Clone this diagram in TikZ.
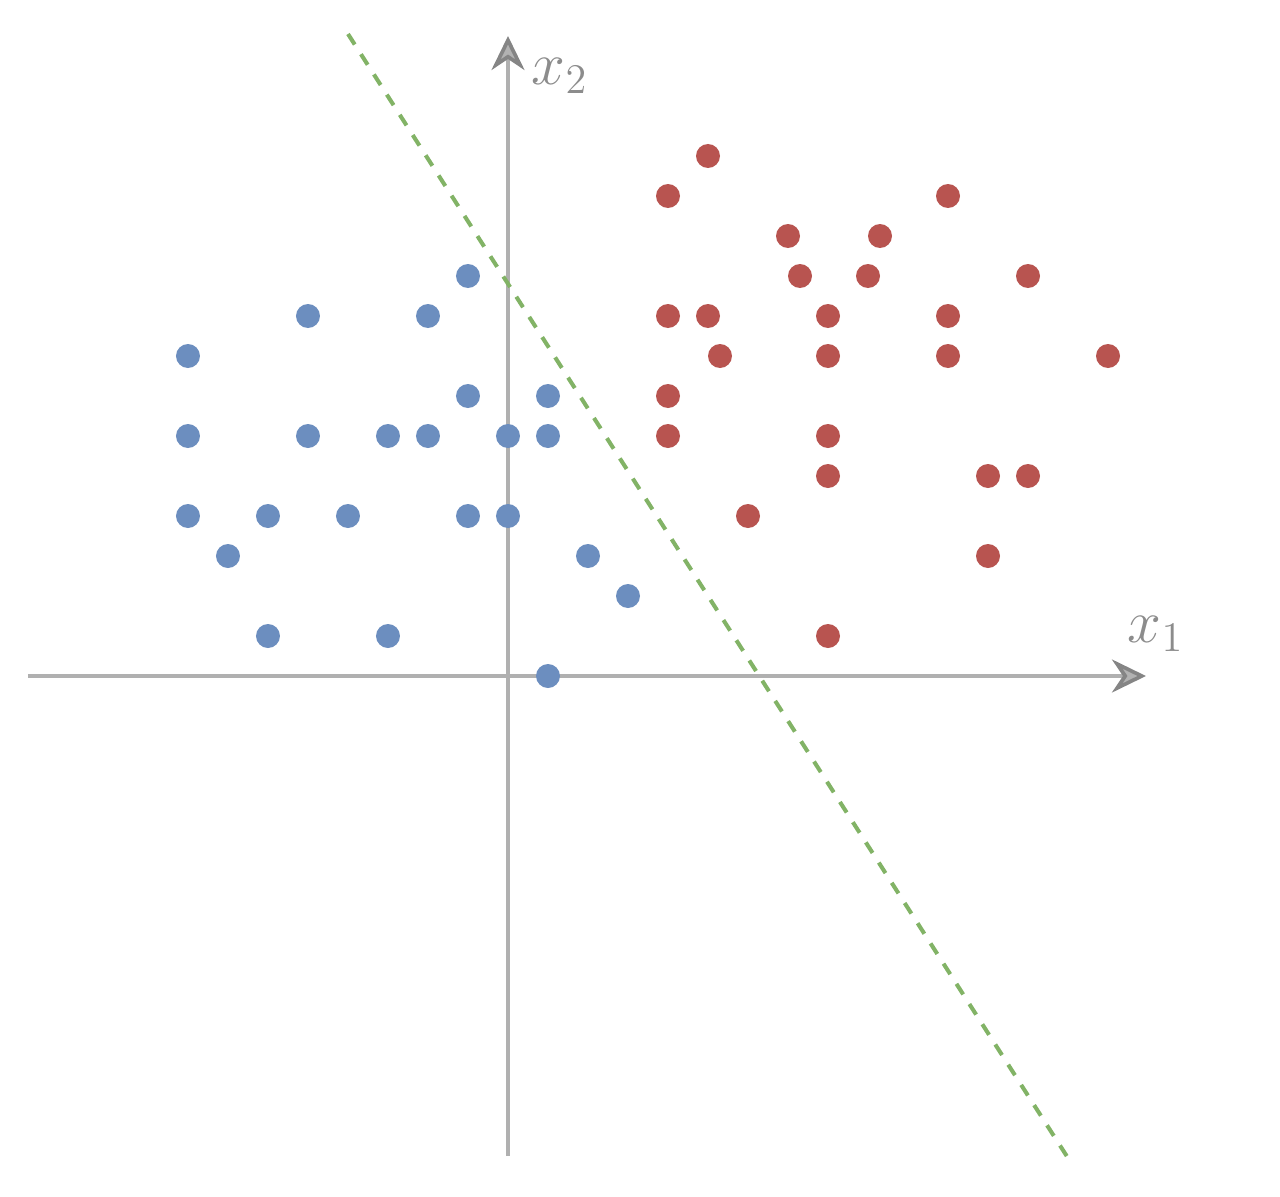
\documentclass[tikz,border=0pt]{standalone}
\usepackage{tikz}
\usetikzlibrary{positioning}
\usetikzlibrary{arrows.meta}
\definecolor{dotblue}{HTML}{6C8EBF}
\definecolor{dotred}{HTML}{B85450}
\definecolor{sepgreen}{HTML}{82B366}
\tikzset{
    axis/.style = {line width=1.05pt,draw=black!31,-{Stealth[length=3.4mm,width=3.3mm,inset=1.1mm,fill=black!30,color=black!48]}},
    dotb/.style = {circle,fill=dotblue,inner sep=0pt,minimum size=2.4mm},
    dotr/.style = {circle,fill=dotred,inner sep=0pt,minimum size=2.4mm},
    sep/.style = {line width=1.15pt,sepgreen,dash pattern=on 1.25mm off 1.15mm},
    axlabel/.style = {text=black!45,font=\LARGE}
}

\begin{document}
\begin{tikzpicture}[x=0.4cm,y=0.4cm]
\useasboundingbox (-12.7,-13) rectangle (19.3,16.9);
% axes
\coordinate (xl) at (-12,0);
\coordinate (xr) at (15.95,0);
\coordinate (yb) at (0,-12);
\coordinate (yt) at (0,16);
\draw[axis] (xl) -- (xr);
\draw[axis] (yb) -- (yt);
\node[axlabel] at (16.2,1.05) (x1) {$x_1$};
\node[axlabel] at (1.3,15.0) (x2) {$x_2$};
% separating line
\coordinate (s1) at (-4,16.05);
\coordinate (s2) at (14,-12.05);
\draw[sep] (s1) -- (s2);
% blue class
\foreach \p [count=\i] in {(-1,10),(-5,9),(-2,9),(-8,8),(-1,7),(1,7),(-8,6),(-5,6),
    (-3,6),(-2,6),(0,6),(1,6),(-8,4),(-6,4),(-4,4),(-1,4),(0,4),(-7,3),(2,3),(3,2),
    (-6,1),(-3,1),(1,0)}
    \node[dotb] (b\i) at \p {};
% red class
\foreach \p [count=\i] in {(5,13),(4,12),(11,12),(7,11),(9.3,11),(7.3,10),(9,10),(13,10),
    (4,9),(5,9),(8,9),(11,9),(5.3,8),(8,8),(11,8),(15,8),(4,7),(4,6),(8,6),(8,5),
    (12,5),(13,5),(6,4),(12,3),(8,1)}
    \node[dotr] (r\i) at \p {};
\end{tikzpicture}
\end{document}
